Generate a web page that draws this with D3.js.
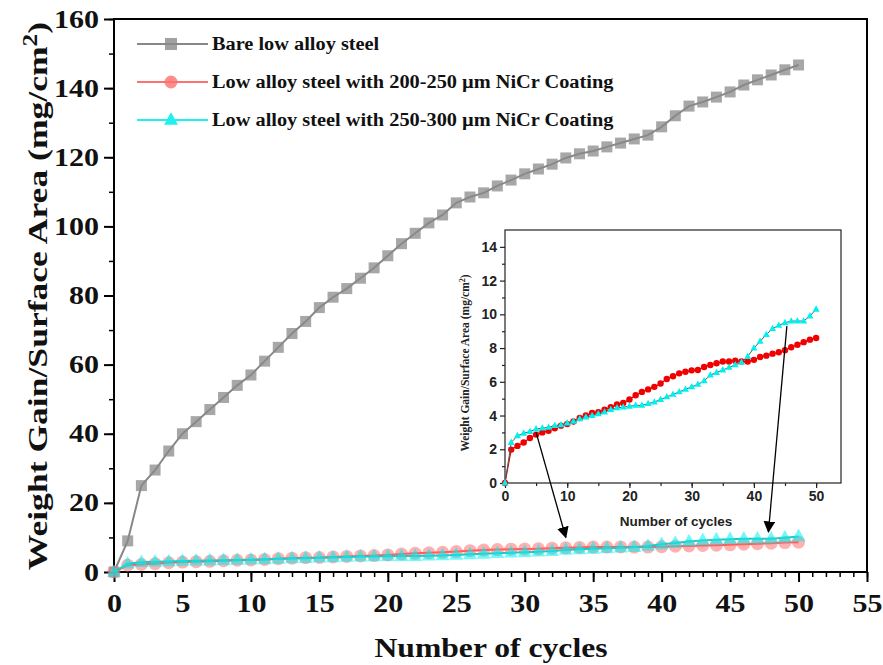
<!DOCTYPE html>
<html>
<head>
<meta charset="utf-8">
<script src="https://cdn.jsdelivr.net/npm/d3@7"></script>
<style>
  body { margin: 0; background: #fff; }
  svg { display: block; }
</style>
</head>
<body>
<svg id="canvas" width="883" height="665"></svg>
<script>
// cycles 0..50
const cycles = d3.range(0, 51);

const bareSteel = [0, 9, 25, 29.5, 35, 40, 43.5, 47, 50.5, 54, 57, 61, 65, 69, 72.5, 76.5,
  79.5, 82, 85, 88, 91.5, 95, 98, 101, 103.3, 106.8, 108.5, 109.7, 111.7, 113.4, 115.2,
  116.6, 118, 119.8, 121, 121.8, 123, 124.1, 125.3, 126.4, 128.8, 132, 134.8, 136, 137.4,
  138.9, 140.9, 142.4, 143.8, 145.3, 146.7];

const coating200 = [0, 1.98, 2.2, 2.4, 2.67, 2.87, 3.0, 3.1, 3.25, 3.4, 3.5, 3.65, 3.85, 4.0,
  4.15, 4.2, 4.35, 4.5, 4.65, 4.75, 4.95, 5.2, 5.4, 5.55, 5.7, 5.9, 6.17, 6.33, 6.5, 6.6,
  6.68, 6.7, 6.88, 7.0, 7.1, 7.2, 7.2, 7.25, 7.2, 7.2, 7.3, 7.47, 7.55, 7.67, 7.75, 7.87,
  8.05, 8.2, 8.35, 8.5, 8.6];

const coating250 = [0, 2.4, 2.8, 2.95, 3.05, 3.2, 3.25, 3.3, 3.4, 3.45, 3.55, 3.65, 3.8, 3.9,
  4.0, 4.1, 4.2, 4.35, 4.45, 4.5, 4.55, 4.6, 4.6, 4.7, 4.8, 4.95, 5.1, 5.25, 5.4, 5.55,
  5.7, 5.85, 6.05, 6.4, 6.55, 6.7, 6.85, 7.0, 7.15, 7.5, 8.0, 8.4, 8.8, 9.15, 9.35, 9.5,
  9.6, 9.6, 9.6, 9.9, 10.3];

const legendLabels = [
  "Bare low alloy steel",
  "Low alloy steel with 200-250 \u00b5m  NiCr Coating",
  "Low alloy steel with 250-300 \u00b5m NiCr Coating"
];

const xTicks = d3.range(0, 56, 5);
const yTicks = d3.range(0, 161, 20);
const insetXTicks = d3.range(0, 51, 10);
const insetYTicks = d3.range(0, 15, 2);

// arrows: [inset point, main point]
const arrows = [
  { from: [5, 3.0], to: [33, 10] },
  { from: [45.3, 9.3], to: [47.8, 11.6] }
];

const canvas = d3.select("#canvas");
const serif = "'Liberation Serif', 'Times New Roman', serif";
const sans = "'Liberation Sans', Arial, sans-serif";
const stretch = 1.2; // the reference text is drawn wide

const x = d3.scaleLinear().domain([0, 55]).range([114, 867]);
const y = d3.scaleLinear().domain([0, 160]).range([572, 19]);

const ix = d3.scaleLinear().domain([0, 54]).range([505, 841]);
const iy = d3.scaleLinear().domain([0, 15]).range([483, 230]);

function tri(cx, cy, s) {
  const h = s * 0.9;
  return `M${cx},${cy - h * 0.62}L${cx + s / 2},${cy + h * 0.38}L${cx - s / 2},${cy + h * 0.38}Z`;
}

// ---- main frame
canvas.append("rect")
  .attr("x", x(0)).attr("y", y(160))
  .attr("width", x(55) - x(0)).attr("height", y(0) - y(160))
  .attr("fill", "none").attr("stroke", "#000").attr("stroke-width", 2);

// x axis
const gx = canvas.append("g").attr("transform", `translate(0,${y(0)})`);
gx.call(d3.axisBottom(x).tickValues(d3.range(0, 56, 1)).tickSize(5).tickFormat(""));
gx.selectAll(".tick line").attr("stroke-width", 1.5);
const gx2 = canvas.append("g").attr("transform", `translate(0,${y(0)})`);
gx2.call(d3.axisBottom(x).tickValues(xTicks).tickSize(10).tickPadding(12));
[gx, gx2].forEach(g => g.select(".domain").remove());
gx2.selectAll(".tick line").attr("stroke-width", 2);
gx2.selectAll("text").attr("font-family", serif).attr("font-weight", "bold")
  .attr("font-size", 25).attr("fill", "#111")
  .attr("transform", `scale(${stretch},1)`);

// y axis
const gy = canvas.append("g").attr("transform", `translate(${x(0)},0)`);
gy.call(d3.axisLeft(y).tickValues(d3.range(0, 161, 10)).tickSize(5).tickFormat(""));
gy.selectAll(".tick line").attr("stroke-width", 1.5);
const gy2 = canvas.append("g").attr("transform", `translate(${x(0)},0)`);
gy2.call(d3.axisLeft(y).tickValues(yTicks).tickSize(10).tickPadding(5));
[gy, gy2].forEach(g => g.select(".domain").remove());
gy2.selectAll(".tick line").attr("stroke-width", 2);
gy2.selectAll("text").attr("font-family", serif).attr("font-weight", "bold")
  .attr("font-size", 25).attr("fill", "#111")
  .attr("x", -15 / stretch).attr("transform", `scale(${stretch},1)`);

// titles
canvas.append("text")
  .attr("transform", "translate(491,657) scale(1.13,1)").attr("text-anchor", "middle")
  .attr("font-family", serif).attr("font-weight", "bold").attr("font-size", 28)
  .attr("fill", "#111").text("Number of cycles");

const yt = canvas.append("text")
  .attr("transform", "translate(47,296) rotate(-90) scale(1.27,1)")
  .attr("text-anchor", "middle")
  .attr("font-family", serif).attr("font-weight", "bold").attr("font-size", 28)
  .attr("fill", "#111");
yt.append("tspan").text("Weight Gain/Surface Area (mg/cm");
yt.append("tspan").attr("dy", -10).attr("font-size", 20).text("2");
yt.append("tspan").attr("dy", 10).text(")");

// ---- main series
const line = (xs, ys, vals) => d3.line().x((d, i) => xs(cycles[i])).y(d => ys(d))(vals);

canvas.append("path").attr("d", line(x, y, bareSteel))
  .attr("fill", "none").attr("stroke", "#888").attr("stroke-width", 2);
canvas.append("g").selectAll("rect").data(bareSteel).join("rect")
  .attr("x", (d, i) => x(cycles[i]) - 5.5).attr("y", d => y(d) - 5.5)
  .attr("width", 11).attr("height", 11)
  .attr("fill", "#8a8a8a").attr("fill-opacity", 0.75);

canvas.append("path").attr("d", line(x, y, coating200))
  .attr("fill", "none").attr("stroke", "#ff5050").attr("stroke-width", 2);
canvas.append("g").selectAll("circle").data(coating200).join("circle")
  .attr("cx", (d, i) => x(cycles[i])).attr("cy", d => y(d)).attr("r", 6.5)
  .attr("fill", "#ff7070").attr("fill-opacity", 0.55);

canvas.append("path").attr("d", line(x, y, coating250))
  .attr("fill", "none").attr("stroke", "#20c8c8").attr("stroke-width", 2);
canvas.append("g").selectAll("path").data(coating250).join("path")
  .attr("d", (d, i) => tri(x(cycles[i]), y(d), 14))
  .attr("fill", "#00f0f0").attr("fill-opacity", 0.55);

// ---- legend
const legendColors = ["#888", "#ff7070", "#20f0f0"];
const legend = canvas.append("g");
legendLabels.forEach((lab, i) => {
  const ly = 44 + i * 38;
  legend.append("line").attr("x1", 137).attr("x2", 208).attr("y1", ly).attr("y2", ly)
    .attr("stroke", legendColors[i]).attr("stroke-width", 2.2);
  if (i === 0) {
    legend.append("rect").attr("x", 165).attr("y", ly - 6).attr("width", 12).attr("height", 12)
      .attr("fill", "#8a8a8a").attr("fill-opacity", 0.8);
  } else if (i === 1) {
    legend.append("circle").attr("cx", 171).attr("cy", ly).attr("r", 6.5)
      .attr("fill", "#ff7070").attr("fill-opacity", 0.8);
  } else {
    legend.append("path").attr("d", tri(171, ly, 14)).attr("fill", "#20f0f0");
  }
  legend.append("text").attr("transform", `translate(212,${ly + 6}) scale(1.13,1)`)
    .attr("font-family", serif).attr("font-weight", "bold").attr("font-size", 18)
    .attr("fill", "#111").text(lab);
});

// ---- inset
const inset = canvas.append("g");
inset.append("rect")
  .attr("x", ix(0)).attr("y", iy(15)).attr("width", ix(54) - ix(0)).attr("height", iy(0) - iy(15))
  .attr("fill", "#fff").attr("stroke", "#222").attr("stroke-width", 1.2);

const igx = inset.append("g").attr("transform", `translate(0,${iy(0)})`);
igx.call(d3.axisBottom(ix).tickValues(d3.range(0, 51, 5)).tickSize(3).tickFormat(""));
const igx2 = inset.append("g").attr("transform", `translate(0,${iy(0)})`);
igx2.call(d3.axisBottom(ix).tickValues(insetXTicks).tickSize(5).tickPadding(3));
const igy = inset.append("g").attr("transform", `translate(${ix(0)},0)`);
igy.call(d3.axisLeft(iy).tickValues(d3.range(1, 15, 2)).tickSize(3).tickFormat(""));
const igy2 = inset.append("g").attr("transform", `translate(${ix(0)},0)`);
igy2.call(d3.axisLeft(iy).tickValues(insetYTicks).tickSize(5).tickPadding(3));
[igx, igx2, igy, igy2].forEach(g => {
  g.select(".domain").remove();
  g.selectAll(".tick line").attr("stroke", "#222").attr("stroke-width", 1.2);
  g.selectAll("text").attr("font-family", sans).attr("font-weight", "bold")
    .attr("font-size", 14).attr("fill", "#222");
});

inset.append("text").attr("x", 676).attr("y", 526).attr("text-anchor", "middle")
  .attr("font-family", sans).attr("font-weight", "bold").attr("font-size", 13.5)
  .attr("fill", "#222").text("Number of cycles");

const iyt = inset.append("text")
  .attr("transform", "translate(469,363) rotate(-90)").attr("text-anchor", "middle")
  .attr("font-family", serif).attr("font-weight", "bold").attr("font-size", 11.5)
  .attr("fill", "#222");
iyt.append("tspan").text("Weight Gain/Surface Area (mg/cm");
iyt.append("tspan").attr("dy", -4).attr("font-size", 8).text("2");
iyt.append("tspan").attr("dy", 4).text(")");

inset.append("path").attr("d", line(ix, iy, coating200))
  .attr("fill", "none").attr("stroke", "#e00000").attr("stroke-width", 1.2);
inset.append("g").selectAll("circle").data(coating200).join("circle")
  .attr("cx", (d, i) => ix(cycles[i])).attr("cy", d => iy(d)).attr("r", 3.2)
  .attr("fill", "#f00000");

inset.append("path").attr("d", line(ix, iy, coating250))
  .attr("fill", "none").attr("stroke", "#555").attr("stroke-width", 1);
inset.append("g").selectAll("path").data(coating250).join("path")
  .attr("d", (d, i) => tri(ix(cycles[i]), iy(d), 7))
  .attr("fill", "#00f0f0");

// ---- arrows
canvas.append("defs").append("marker")
  .attr("id", "head").attr("viewBox", "0 0 10 10").attr("refX", 9).attr("refY", 5)
  .attr("markerWidth", 9).attr("markerHeight", 9).attr("orient", "auto-start-reverse")
  .append("path").attr("d", "M0,0L10,5L0,10Z").attr("fill", "#000");

canvas.append("g").selectAll("line").data(arrows).join("line")
  .attr("x1", d => ix(d.from[0])).attr("y1", d => iy(d.from[1]))
  .attr("x2", d => x(d.to[0])).attr("y2", d => y(d.to[1]))
  .attr("stroke", "#000").attr("stroke-width", 1.3)
  .attr("marker-end", "url(#head)");
</script>
</body>
</html>
